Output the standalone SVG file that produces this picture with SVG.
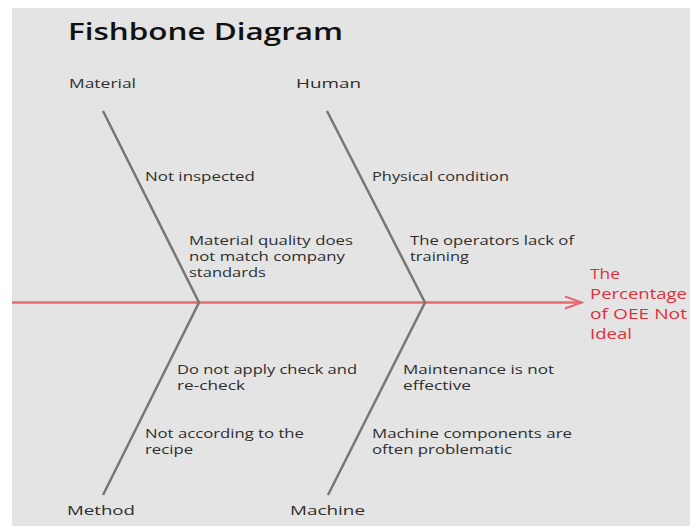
<svg xmlns="http://www.w3.org/2000/svg" width="690" height="526" viewBox="0 0 690 526">
<defs>
<style>
text,tspan{font-family:"Open Sans","Noto Sans","Liberation Sans",sans-serif;fill:#2e2e2e;}
.title{font-size:24px;font-weight:600;fill:#111;}
.cat{font-size:13px;}
.cause{font-size:12.5px;}
.effect,.effect tspan{font-size:14.5px;fill:#e0303c;}
.bone{fill:none;stroke:#777;stroke-width:2.5;}
.spine{fill:none;stroke:#e86a6e;stroke-width:2.5;}
</style>
<marker id="arr" viewBox="0 0 20 16" refX="18" refY="8" markerWidth="20" markerHeight="16" markerUnits="userSpaceOnUse" orient="auto">
<path d="M1,2 L18,8 L1,14" fill="none" stroke="#e86a6e" stroke-width="2"/>
</marker>
</defs>
<rect x="0" y="0" width="690" height="526" fill="#fff"/>
<rect x="12" y="8" width="678" height="518" fill="#e4e4e4"/>
<text class="title" x="68" y="40" textLength="275" lengthAdjust="spacingAndGlyphs">Fishbone Diagram</text>
<g id="connectors">
<line class="spine" x1="12" y1="302.5" x2="582" y2="302.5" marker-end="url(#arr)"/>
<polyline class="bone" points="103,111 199,302.5 103,495"/>
<polyline class="bone" points="327,111 425,302.5 328,495"/>
</g>
<g id="material"><text class="cat" x="69" y="88" textLength="67" lengthAdjust="spacingAndGlyphs">Material</text></g>
<g id="human"><text class="cat" x="296" y="88" textLength="65" lengthAdjust="spacingAndGlyphs">Human</text></g>
<g id="method"><text class="cat" x="67" y="515" textLength="68" lengthAdjust="spacingAndGlyphs">Method</text></g>
<g id="machine"><text class="cat" x="290" y="515" textLength="75" lengthAdjust="spacingAndGlyphs">Machine</text></g>
<g id="not-inspected"><text class="cause" x="145" y="181" textLength="110" lengthAdjust="spacingAndGlyphs">Not inspected</text></g>
<g id="material-quality"><text class="cause"><tspan x="189" y="245" textLength="164" lengthAdjust="spacingAndGlyphs">Material quality does</tspan><tspan x="189" y="261" textLength="156" lengthAdjust="spacingAndGlyphs">not match company</tspan><tspan x="189" y="277" textLength="77" lengthAdjust="spacingAndGlyphs">standards</tspan></text></g>
<g id="physical-condition"><text class="cause" x="372" y="181" textLength="137" lengthAdjust="spacingAndGlyphs">Physical condition</text></g>
<g id="operators-training"><text class="cause"><tspan x="410" y="245" textLength="164" lengthAdjust="spacingAndGlyphs">The operators lack of</tspan><tspan x="410" y="261" textLength="59" lengthAdjust="spacingAndGlyphs">training</tspan></text></g>
<g id="check-recheck"><text class="cause"><tspan x="177" y="374" textLength="180" lengthAdjust="spacingAndGlyphs">Do not apply check and</tspan><tspan x="177" y="390" textLength="68" lengthAdjust="spacingAndGlyphs">re-check</tspan></text></g>
<g id="recipe"><text class="cause"><tspan x="145" y="438" textLength="159" lengthAdjust="spacingAndGlyphs">Not according to the</tspan><tspan x="145" y="454" textLength="48" lengthAdjust="spacingAndGlyphs">recipe</tspan></text></g>
<g id="maintenance"><text class="cause"><tspan x="403" y="374" textLength="151" lengthAdjust="spacingAndGlyphs">Maintenance is not</tspan><tspan x="403" y="390" textLength="68" lengthAdjust="spacingAndGlyphs">effective</tspan></text></g>
<g id="components"><text class="cause"><tspan x="372" y="438" textLength="200" lengthAdjust="spacingAndGlyphs">Machine components are</tspan><tspan x="372" y="454" textLength="140" lengthAdjust="spacingAndGlyphs">often problematic</tspan></text></g>
<g id="effect"><text class="effect"><tspan x="590" y="279" textLength="30" lengthAdjust="spacingAndGlyphs">The</tspan><tspan x="590" y="299" textLength="97" lengthAdjust="spacingAndGlyphs">Percentage</tspan><tspan x="590" y="319" textLength="97" lengthAdjust="spacingAndGlyphs">of OEE Not</tspan><tspan x="590" y="339" textLength="42" lengthAdjust="spacingAndGlyphs">Ideal</tspan></text></g>
</svg>
